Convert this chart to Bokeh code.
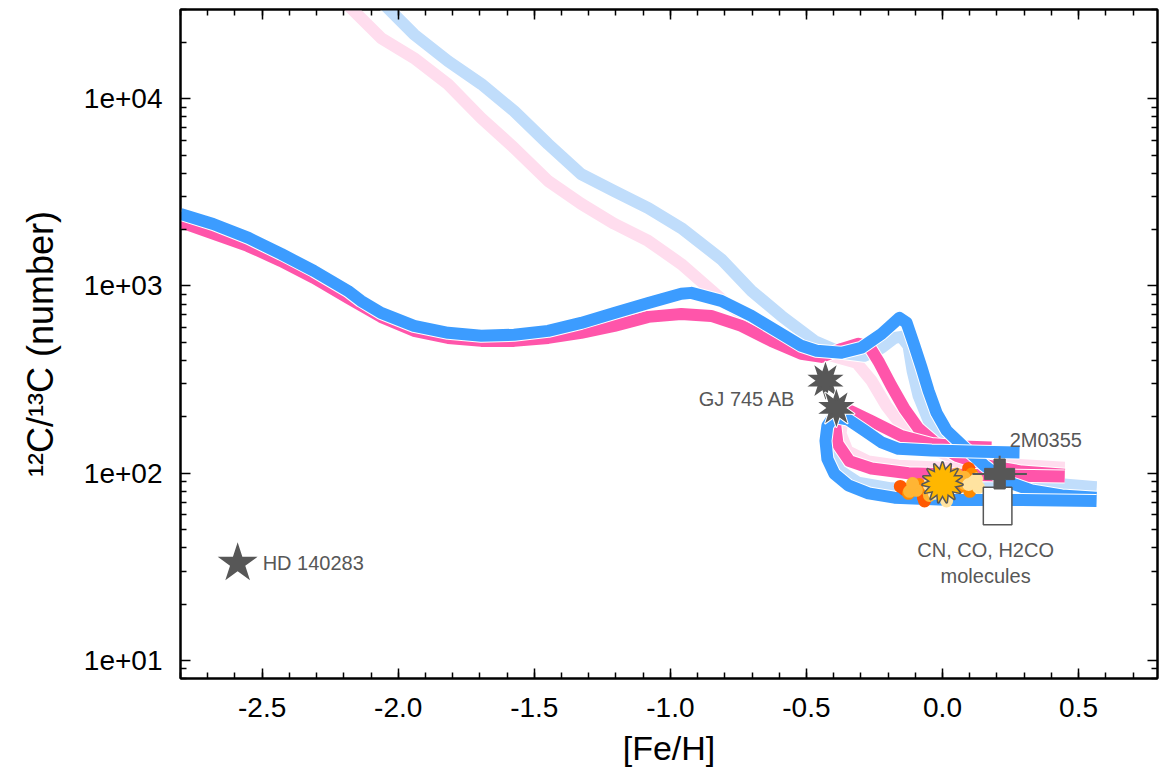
import math
from bokeh.plotting import figure
from bokeh.models import (Range1d, FixedTicker, LinearAxis, LogAxis,
                          CustomJSTickFormatter, Label)
from bokeh.embed import file_html
from bokeh.resources import INLINE

# ---------------- data ----------------
xtick_values = [-2.5, -2.0, -1.5, -1.0, -0.5, 0.0, 0.5]
xtick_labels = ["-2.5", "-2.0", "-1.5", "-1.0", "-0.5", "0.0", "0.5"]
ytick_values = [10, 100, 1000, 10000]
ytick_labels = ["1e+01", "1e+02", "1e+03", "1e+04"]

# dark blue model track
db_x = [-2.80, -2.68, -2.55, -2.43, -2.31, -2.185, -2.137, -2.063, -1.942, -1.817, -1.695, -1.574,
        -1.449, -1.328, -1.206, -1.081, -0.960, -0.923, -0.813, -0.702, -0.592, -0.519, -0.463,
        -0.371, -0.298, -0.224, -0.158, -0.132, -0.103, -0.077, -0.051, -0.022, 0.015, 0.081,
        0.154, 0.228, 0.327, 0.438, 0.566]
db_y = [2427, 2145, 1806, 1484, 1204, 942, 833, 718, 612, 562, 542, 549,
        576, 635, 718, 812, 908, 919, 833, 692, 555, 479, 451,
        440, 468, 555, 676, 636, 479, 366, 275, 210, 169, 137,
        110, 91, 81, 76, 74]
# dark blue hook
dh_x = [0.283, 0.143, -0.040, -0.162, -0.224, -0.287, -0.346, -0.401, -0.423, -0.430, -0.423,
        -0.397, -0.346, -0.272, -0.177, 0.033, 0.291, 0.566]
dh_y = [129, 130, 132, 135, 146, 169, 193, 200, 179, 149, 119, 99, 86, 78, 74, 72, 72, 71]

# light blue model track
lb_x = [-2.063, -1.942, -1.817, -1.695, -1.574, -1.449, -1.328, -1.206, -1.081, -0.960, -0.813,
        -0.702, -0.592, -0.471, -0.371, -0.287, -0.224, -0.177, -0.151, -0.125, -0.110, -0.088,
        -0.051, -0.004, 0.070, 0.180, 0.327, 0.566]
lb_y = [33200, 22100, 15900, 12000, 8590, 5730, 3960, 3210, 2610, 2040, 1390,
        942, 692, 509, 440, 424, 468, 528, 535, 479, 352, 259,
        191, 149, 124, 103, 90, 84]
# light blue hook
lh_x = [-0.386, -0.405, -0.401, -0.375, -0.309, -0.188, 0.033, 0.327, 0.566]
lh_y = [191, 149, 124, 104, 90, 84, 82, 87, 84]

# hot pink model track
pm_x = [-2.80, -2.553, -2.431, -2.310, -2.185, -2.063, -1.942, -1.817, -1.695, -1.574, -1.449,
        -1.328, -1.206, -1.081, -0.960, -0.850, -0.739, -0.629, -0.519, -0.445, -0.371, -0.309,
        -0.268, -0.232, -0.188, -0.140, -0.088, -0.029, 0.051, 0.162, 0.291, 0.449]
pm_y = [2198, 1637, 1361, 1105, 865, 684, 576, 528, 509, 509, 528,
        562, 612, 684, 709, 692, 612, 509, 434, 418, 461, 491,
        473, 388, 293, 221, 173, 146, 124, 110, 102, 98]
# hot pink hook
ph_x = [0.180, 0.070, -0.040, -0.151, -0.261, -0.335, -0.379, -0.394, -0.386, -0.342, -0.261,
        -0.125, 0.070, 0.449]
ph_y = [137, 139, 143, 158, 190, 214, 214, 179, 144, 116, 106, 100, 98, 96]

# light pink model track
lp_x = [-2.199, -2.063, -1.942, -1.817, -1.695, -1.574, -1.449, -1.328, -1.206, -1.081, -0.960,
        -0.813, -0.666, -0.519, -0.408, -0.316, -0.261, -0.206, -0.151, -0.077, 0.022, 0.217, 0.449]
lp_y = [33200, 21100, 16500, 11970, 7890, 5460, 3640, 2750, 2150, 1740, 1310,
        851, 590, 468, 424, 389, 312, 229, 180, 144, 124, 112, 107]
# light pink hook
lph_x = [-0.360, -0.371, -0.346, -0.272, -0.162, 0.022, 0.449]
lph_y = [208, 163, 132, 117, 111, 108, 107]

# observations
hd_x, hd_y = [-2.59], [33.0]
gj_x, gj_y = [-0.43, -0.39], [312, 223]
sun_x, sun_y = [0.0], [89]
m2_x, m2_y = [0.21], [99]
m2_xerr, m2_yerr = [0.10], [25]
mol_left, mol_right, mol_bottom, mol_top = [0.15], [0.255], [53], [84]

nb_x = [-0.155, -0.07, -0.066, 0.096, 0.07, -0.14,
        -0.125, -0.103, -0.085, 0.059, 0.044, 0.107, -0.06, 0.10,
        -0.121, -0.096, -0.048, 0.081, 0.051, -0.11, 0.08,
        0.015, 0.096, 0.125, 0.132, -0.048, -0.03, 0.115]
nb_y = [85, 74, 71, 106, 92, 82,
        78, 84, 87, 84, 90, 99, 82, 80,
        80, 81, 76, 88, 99, 88, 95,
        71, 87, 93, 84, 86, 78, 90]
nb_c = ["#FF5A00"] * 6 + ["#FF8A00"] * 8 + ["#FFB534"] * 7 + ["#FFE3A0"] * 7

# ---------------- styling ----------------
FONT = "Liberation Sans"
GRAY = "#575757"
DBLUE = "#3C9CFF"
LBLUE = "#C0DDFB"
PINK = "#FF55AA"
LPINK = "#FFDDEE"

p = figure(width=1162, height=773, x_range=Range1d(-2.8, 0.79), y_range=Range1d(8, 30000),
           y_axis_type="log", output_backend="svg", toolbar_location=None,
           min_border_left=180, min_border_right=5, min_border_top=9, min_border_bottom=95)
p.grid.visible = False
p.outline_line_color = "black"
p.outline_line_width = 2
p.background_fill_color = "white"
p.border_fill_color = "white"

x_minor = [round(-2.8 + 0.1 * k, 1) for k in range(37)]
y_minor = [m * 10 ** d for d in range(0, 5) for m in range(2, 10)]

xfmt = CustomJSTickFormatter(args=dict(vals=xtick_values, labels=xtick_labels), code="""
const i = vals.findIndex(v => Math.abs(v - tick) < 1e-6);
return i >= 0 ? labels[i] : '';""")
yfmt = CustomJSTickFormatter(args=dict(vals=ytick_values, labels=ytick_labels), code="""
const i = vals.findIndex(v => Math.abs(Math.log10(v) - Math.log10(tick)) < 1e-6);
return i >= 0 ? labels[i] : '';""")
blank = CustomJSTickFormatter(code="return '';")


def style_axis(ax):
    ax.axis_line_width = 2
    ax.axis_line_color = "black"
    ax.major_tick_in = 10
    ax.major_tick_out = 0
    ax.minor_tick_in = 6
    ax.minor_tick_out = 0
    ax.major_tick_line_width = 1.5
    ax.minor_tick_line_width = 1.5
    ax.major_label_text_font = FONT
    ax.major_label_text_font_size = "28px"
    ax.major_label_text_color = "black"
    ax.axis_label_text_font = FONT
    ax.axis_label_text_font_style = "normal"
    ax.axis_label_text_color = "black"


xax = p.xaxis[0]
xax.ticker = FixedTicker(ticks=xtick_values, minor_ticks=x_minor)
xax.formatter = xfmt
style_axis(xax)
xax.axis_label = "[Fe/H]"
xax.axis_label_text_font_size = "34px"
xax.major_label_standoff = 19
xax.axis_label_standoff = 9

yax = p.yaxis[0]
yax.ticker = FixedTicker(ticks=ytick_values, minor_ticks=y_minor)
yax.formatter = yfmt
style_axis(yax)
yax.axis_label = "¹²C/¹³C (number)"
yax.axis_label_text_font_size = "36px"
yax.major_label_standoff = 18
yax.axis_label_standoff = 20

top = LinearAxis(ticker=FixedTicker(ticks=xtick_values, minor_ticks=x_minor), formatter=blank)
style_axis(top)
top.major_label_standoff = 0
p.add_layout(top, "above")
right = LogAxis(ticker=FixedTicker(ticks=ytick_values, minor_ticks=y_minor), formatter=blank)
style_axis(right)
right.major_label_standoff = 0
p.add_layout(right, "right")

# ---------------- curves ----------------
W = 12
p.line(lp_x, lp_y, line_color=LPINK, line_width=W, line_join="round")
p.line(lph_x, lph_y, line_color=LPINK, line_width=W - 2, line_join="round")
p.line(lb_x, lb_y, line_color="white", line_width=W + 2, line_join="round")
p.line(lb_x, lb_y, line_color=LBLUE, line_width=W, line_join="round")
p.line(lh_x, lh_y, line_color=LBLUE, line_width=W - 2, line_join="round")
for xs, ys in [(pm_x, pm_y), (ph_x, ph_y)]:
    p.line(xs, ys, line_color="white", line_width=W + 2, line_join="round")
    p.line(xs, ys, line_color=PINK, line_width=W, line_join="round")
for xs, ys in [(db_x, db_y), (dh_x, dh_y)]:
    p.line(xs, ys, line_color="white", line_width=W + 2, line_join="round")
    p.line(xs, ys, line_color=DBLUE, line_width=W, line_join="round")

# ---------------- observations ----------------
p.scatter(nb_x, nb_y, marker="circle", size=13, fill_color=nb_c, line_color=None)


def burst(xs, ys, n, size, fill, edge, edge_w):
    angles = [k * (2 * math.pi / 5) / n for k in range(n)]
    for a in angles:
        p.scatter(xs, ys, marker="star", size=size, angle=a, fill_color=edge,
                  line_color=edge, line_width=edge_w * 2, line_join="round")
    for a in angles:
        p.scatter(xs, ys, marker="star", size=size, angle=a, fill_color=fill, line_color=None)


burst(sun_x, sun_y, 3, 40, "#FFB700", GRAY, 1.5)

p.segment(x0=[m2_x[0] - m2_xerr[0]], y0=m2_y, x1=[m2_x[0] + m2_xerr[0]], y1=m2_y,
          line_color=GRAY, line_width=2)
p.segment(x0=m2_x, y0=[m2_y[0] - m2_yerr[0]], x1=m2_x, y1=[m2_y[0] + m2_yerr[0]],
          line_color=GRAY, line_width=2)
p.quad(left=mol_left, right=mol_right, bottom=mol_bottom, top=mol_top,
       fill_color="white", line_color=GRAY, line_width=1.5)
p.scatter(m2_x, m2_y, marker="plus", size=30, fill_color=GRAY, line_color=GRAY)

for i in range(len(gj_x)):
    burst([gj_x[i]], [gj_y[i]], 2, 38, GRAY, "white", 1.0)

p.scatter(hd_x, hd_y, marker="star", size=42, fill_color=GRAY, line_color=None)

# ---------------- labels ----------------
def lab(x, y, text, xo, yo, align="left", baseline="middle"):
    p.add_layout(Label(x=x, y=y, text=text, x_offset=xo, y_offset=yo, text_font=FONT,
                       text_font_size="20px", text_color=GRAY, text_align=align,
                       text_baseline=baseline))


lab(hd_x[0], hd_y[0], "HD 140283", 25, 0)
lab(gj_x[0], gj_y[0], "GJ 745 AB", -30, -18, align="right")
lab(m2_x[0], m2_y[0], "2M0355", 10, 34)
lab((mol_left[0] + mol_right[0]) / 2, mol_bottom[0], "CN, CO, H2CO\nmolecules", -12, -14,
    align="center", baseline="top")

open("out.html", "w").write(file_html(p, INLINE))
